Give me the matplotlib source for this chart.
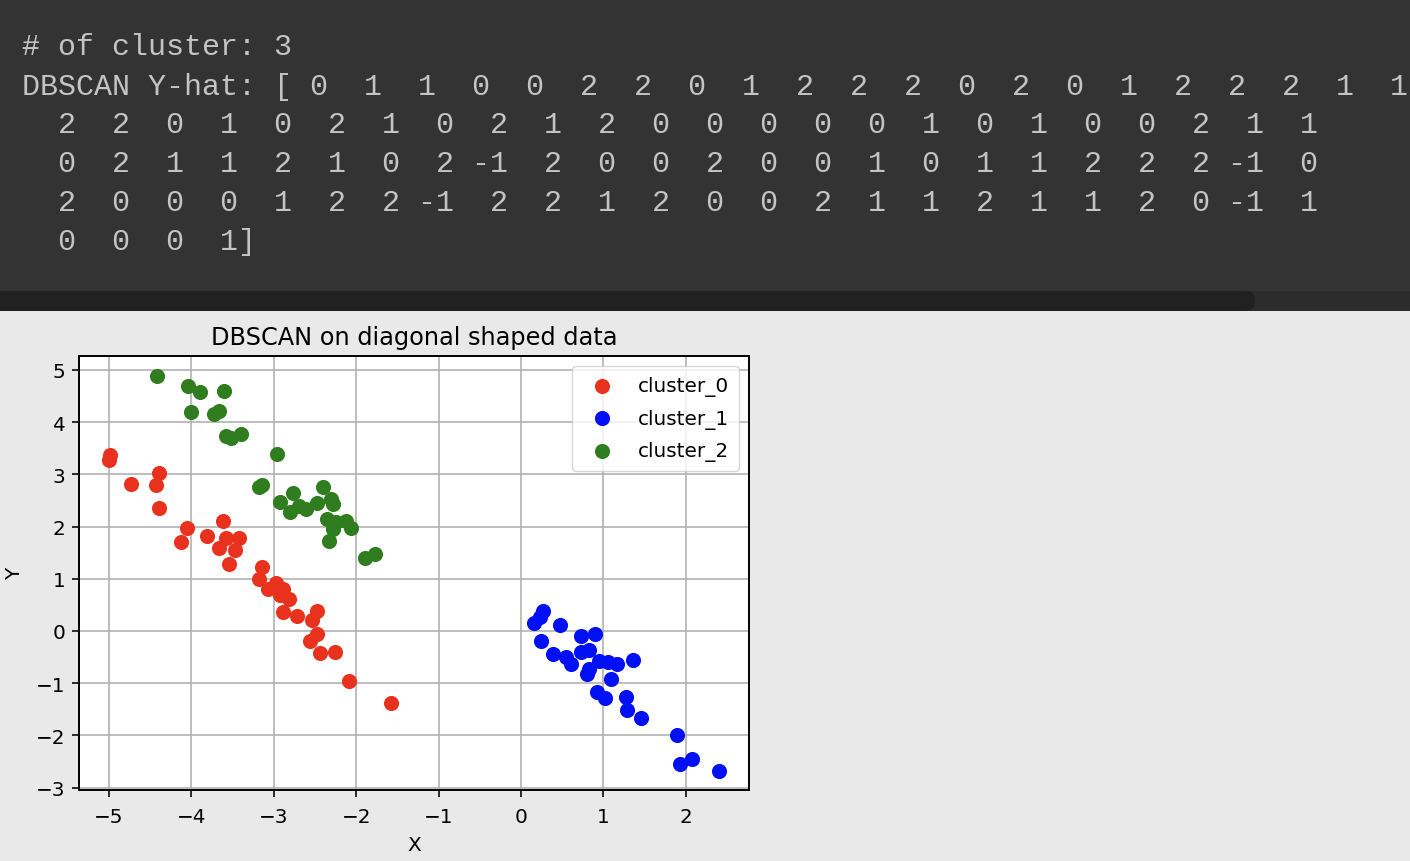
import matplotlib.pyplot as plt
from matplotlib.patches import Rectangle, FancyBboxPatch
from matplotlib.transforms import IdentityTransform

W, H = 1410, 862

# printed notebook output
n_clusters = 3
yhat_row1 = [0, 1, 1, 0, 0, 2, 2, 0, 1, 2, 2, 2, 0, 2, 0, 1, 2, 2, 2, 1, 1]
yhat_row2 = [2, 2, 0, 1, 0, 2, 1, 0, 2, 1, 2, 0, 0, 0, 0, 0, 1, 0, 1, 0, 0, 2, 1, 1]
yhat_row3 = [0, 2, 1, 1, 2, 1, 0, 2, -1, 2, 0, 0, 2, 0, 0, 1, 0, 1, 1, 2, 2, 2, -1, 0]
yhat_row4 = [2, 0, 0, 0, 1, 2, 2, -1, 2, 2, 1, 2, 0, 0, 2, 1, 1, 2, 1, 1, 2, 0, -1, 1]
yhat_row5 = [0, 0, 0, 1]

# cluster points
x0 = [-4.99, -5.00, -4.74, -4.40, -4.43, -4.40, -4.06, -4.13, -3.81, -3.62, -3.58,
      -3.67, -3.42, -3.47, -3.54, -3.15, -3.18, -3.07, -2.97, -2.89, -2.92, -2.82,
      -2.89, -2.72, -2.48, -2.54, -2.48, -2.56, -2.44, -2.26, -2.09, -1.58]
y0 = [3.37, 3.28, 2.82, 3.02, 2.79, 2.36, 1.98, 1.71, 1.82, 2.10, 1.79,
      1.59, 1.79, 1.55, 1.28, 1.22, 1.00, 0.80, 0.92, 0.80, 0.68, 0.61,
      0.37, 0.29, 0.39, 0.22, -0.06, -0.20, -0.42, -0.40, -0.96, -1.38]

x1 = [0.27, 0.23, 0.16, 0.47, 0.24, 0.73, 0.90, 0.39, 0.54, 0.61, 0.73, 0.82, 0.94,
      1.05, 1.17, 1.36, 0.82, 0.80, 1.09, 0.92, 1.02, 1.27, 1.29, 1.46, 1.89, 1.93,
      2.07, 2.40]
y1 = [0.39, 0.26, 0.15, 0.12, -0.20, -0.09, -0.05, -0.44, -0.50, -0.63, -0.40, -0.36,
      -0.57, -0.60, -0.63, -0.55, -0.73, -0.82, -0.92, -1.17, -1.28, -1.26, -1.51, -1.66,
      -2.00, -2.55, -2.46, -2.69]

x2 = [-4.42, -4.04, -3.90, -3.60, -4.00, -3.73, -3.66, -3.58, -3.52, -3.40, -2.96,
      -3.18, -3.15, -2.92, -2.77, -2.80, -2.61, -2.69, -2.48, -2.40, -2.31, -2.28,
      -2.36, -2.25, -2.13, -2.07, -2.28, -2.33, -1.90, -1.77]
y2 = [4.89, 4.70, 4.58, 4.59, 4.20, 4.15, 4.21, 3.74, 3.70, 3.78, 3.39,
      2.76, 2.80, 2.47, 2.64, 2.28, 2.34, 2.40, 2.45, 2.76, 2.53, 2.43,
      2.14, 2.08, 2.11, 1.97, 1.95, 1.72, 1.39, 1.48]

fig = plt.figure(figsize=(W / 100, H / 100), dpi=100, facecolor='#e9e9e9')

# dark output cell + scrollbar
fig.patches.append(Rectangle((0, 1 - 292 / H), 1, 292 / H, transform=fig.transFigure,
                             facecolor='#333333', edgecolor='none', zorder=0))
fig.patches.append(Rectangle((0, 1 - 312 / H), 1, 20 / H, transform=fig.transFigure,
                             facecolor='#2c2c2c', edgecolor='none', zorder=0))
fig.patches.append(FancyBboxPatch((-20, H - 312), 1275, 20, boxstyle='round,pad=0,rounding_size=10',
                                  transform=IdentityTransform(), facecolor='#212121',
                                  edgecolor='none', zorder=1))


def fmt(vals):
    return ' '.join(f'{v:2d}' for v in vals)


lines = [
    f'# of cluster: {n_clusters}',
    'DBSCAN Y-hat: [' + fmt(yhat_row1),
    ' ' + fmt(yhat_row2),
    ' ' + fmt(yhat_row3),
    ' ' + fmt(yhat_row4),
    ' ' + fmt(yhat_row5) + ']',
]
baselines = [55, 95, 133, 172, 211, 250]
for line, b in zip(lines, baselines):
    fig.text(22 / W, 1 - b / H, line, family='Liberation Mono', fontsize=21.6,
             color='#c4c4c4', ha='left', va='baseline')

# scatter plot
ax = fig.add_axes([79 / W, 1 - 791 / H, 670 / W, 434 / H])
ax.set_facecolor('white')
ax.scatter(x0, y0, s=75, color='#e8321e', edgecolors='face', linewidths=2.2, label='cluster_0', zorder=3)
ax.scatter(x1, y1, s=75, color='#0010f5', edgecolors='face', linewidths=2.2, label='cluster_1', zorder=3)
ax.scatter(x2, y2, s=75, color='#2f7d1f', edgecolors='face', linewidths=2.2, label='cluster_2', zorder=3)

ax.set_xlim(-5.365, 2.766)
ax.set_ylim(-3.046, 5.268)
ax.set_xticks(range(-5, 3))
ax.set_yticks(range(-3, 6))
ax.grid(True, color='#b0b0b0', linewidth=1.15)
ax.set_axisbelow(True)
for sp in ax.spines.values():
    sp.set_linewidth(1.4)
ax.tick_params(labelsize=14.4, length=5, width=1.15, pad=5)
ax.tick_params(axis='x', pad=7)

ax.set_title('DBSCAN on diagonal shaped data', fontsize=17.3, pad=8.6)
ax.set_xlabel('X', fontsize=14.4, labelpad=6.5)
ax.set_ylabel('Y', fontsize=14.4, labelpad=8)
ax.legend(loc='upper right', fontsize=14.4, labelspacing=0.63, borderpad=0.5)

fig.savefig('out.png', dpi=100)
